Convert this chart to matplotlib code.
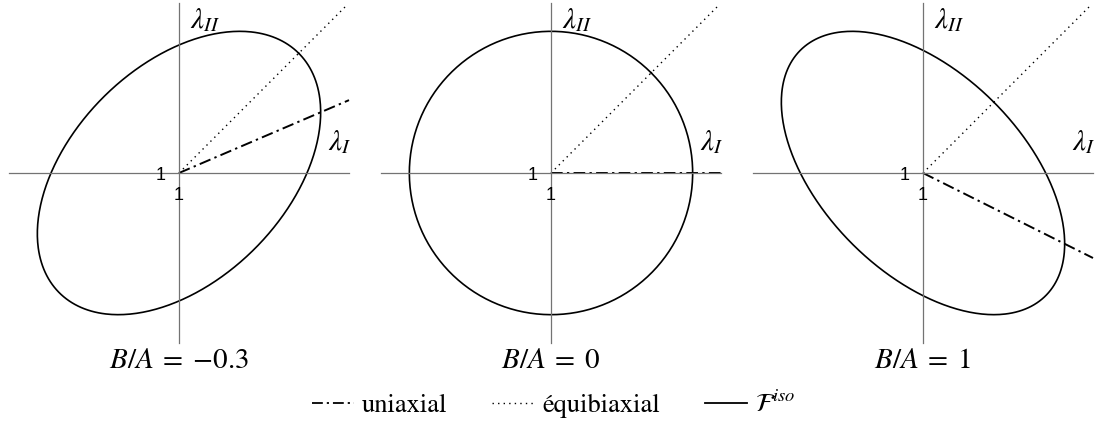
import numpy as np
import matplotlib
matplotlib.use('Agg')
import matplotlib.pyplot as plt
from matplotlib.lines import Line2D

# B/A ratio of each panel
ratios = [-0.3, 0.0, 1.0]
panel_labels = [r'$B/A\;=\;{-}0.3$', r'$B/A\;=\;0$', r'$B/A\;=\;1$']
legend_labels = ['uniaxial', 'équibiaxial', r'$\mathcal{F}^{iso}$']
origin_label = '1'

plt.rcParams['mathtext.fontset'] = 'stix'
plt.rcParams['font.family'] = ['STIXGeneral', 'DejaVu Serif']

W, H = 1107, 436
fig = plt.figure(figsize=(W / 100, H / 100), dpi=100)

lim = 1.2
centers = [179, 551, 923]
half = 170
uni_ls = (0, (6, 2.2, 1.2, 2.2))
equi_ls = (0, (1, 3))

for r, lab, cx in zip(ratios, panel_labels, centers):
    ax = fig.add_axes([(cx - half) / W, (H - 173 - half) / H, 2 * half / W, 2 * half / H])
    ax.set_xlim(-lim, lim)
    ax.set_ylim(-lim, lim)
    for s in ['top', 'right']:
        ax.spines[s].set_visible(False)
    for s in ['left', 'bottom']:
        ax.spines[s].set_position('zero')
        ax.spines[s].set_color('0.45')
        ax.spines[s].set_linewidth(0.9)
    ax.set_xticks([])
    ax.set_yticks([])
    # the "1" marks at the origin (sans-serif like the axis ticks)
    ax.annotate(origin_label, (0, 0), xytext=(-0.5, -10), textcoords='offset points',
                ha='center', va='top', family='Liberation Sans', fontsize=13)
    ax.annotate(origin_label, (0, 0), xytext=(-9.5, -1.5), textcoords='offset points',
                ha='right', va='center', family='Liberation Sans', fontsize=13)

    # level curve x^2 + y^2 + k x y = c, scaled so max |x| = 1
    k = 2 * r / (1 + r)
    c = 1 - k ** 2 / 4
    t = np.linspace(0, 2 * np.pi, 400)
    u = np.sqrt(c / (1 + k / 2)) * np.cos(t)
    v = np.sqrt(c / (1 - k / 2)) * np.sin(t)
    ax.plot((u - v) / np.sqrt(2), (u + v) / np.sqrt(2), color='black', lw=1.2, clip_on=False)

    # uniaxial path goes through the point of vertical tangent
    ax.plot([0, lim], [0, -k / 2 * lim], color='black', lw=1.4, linestyle=uni_ls, clip_on=False)
    # equibiaxial diagonal
    ax.plot([0, 1.18], [0, 1.18], color='black', lw=1.0, linestyle=equi_ls, clip_on=False)

    ax.text(0.08, 1.02, r'$\lambda_{II}$', fontsize=21, ha='left', va='baseline')
    ax.text(1.05, 0.16, r'$\lambda_{I}$', fontsize=21, ha='left', va='baseline')
    ax.text(0, -1.38, lab, fontsize=21, ha='center', va='baseline')

handles = [Line2D([], [], color='black', lw=1.3, linestyle=uni_ls),
           Line2D([], [], color='black', lw=1.0, linestyle=equi_ls),
           Line2D([], [], color='black', lw=1.3)]
fig.legend(handles, legend_labels, loc='center', bbox_to_anchor=(0.5, 31 / H), ncol=3,
           frameon=False, fontsize=19, handlelength=1.6, handletextpad=0.3, columnspacing=1.7)

fig.savefig('out.png', dpi=100)
